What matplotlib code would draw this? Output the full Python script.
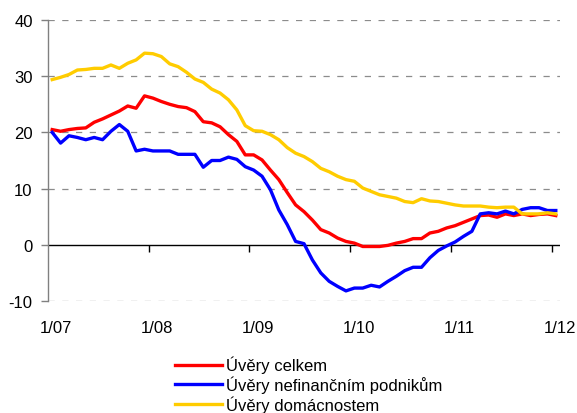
import matplotlib
matplotlib.use("Agg")
import matplotlib.pyplot as plt
import numpy as np

plt.rcParams['font.family'] = ['Liberation Sans', 'DejaVu Sans']

# Monthly year-on-year growth of loans (%), 1/2007 - 1/2012
months = [f"{m}/{y:02d}" for y in range(7, 13) for m in range(1, 13)][:61]

loans_total = [20.5, 20.2, 20.5, 20.7, 20.8, 21.8, 22.4, 23.1, 23.8, 24.7,
               24.3, 26.5, 26.1, 25.5, 25.0, 24.6, 24.4, 23.7, 21.9, 21.7,
               21.0, 19.6, 18.4, 16.0, 16.0, 15.1, 13.3, 11.6, 9.3, 7.1,
               5.9, 4.4, 2.7, 2.1, 1.2, 0.6, 0.3, -0.3, -0.3, -0.3,
               -0.1, 0.3, 0.6, 1.1, 1.1, 2.1, 2.4, 3.0, 3.4, 4.0,
               4.6, 5.2, 5.3, 4.9, 5.5, 5.2, 5.5, 5.2, 5.4, 5.5,
               5.2]

loans_corporations = [20.0, 18.1, 19.4, 19.1, 18.7, 19.1, 18.7, 20.2, 21.4, 20.2,
                      16.7, 17.0, 16.7, 16.7, 16.7, 16.1, 16.1, 16.1, 13.8, 15.0,
                      15.0, 15.6, 15.2, 13.9, 13.3, 12.2, 9.8, 6.2, 3.6, 0.6,
                      0.2, -2.7, -5.0, -6.5, -7.4, -8.2, -7.7, -7.7, -7.2, -7.5,
                      -6.5, -5.6, -4.6, -4.0, -4.0, -2.3, -1.0, -0.2, 0.5, 1.5,
                      2.4, 5.5, 5.7, 5.5, 6.0, 5.5, 6.3, 6.6, 6.6, 6.1,
                      6.1]

loans_households = [29.4, 29.8, 30.3, 31.1, 31.2, 31.4, 31.4, 32.0, 31.4, 32.3,
                    32.9, 34.1, 34.0, 33.5, 32.2, 31.7, 30.7, 29.5, 28.9, 27.7,
                    27.0, 25.8, 24.0, 21.2, 20.3, 20.2, 19.6, 18.7, 17.3, 16.3,
                    15.7, 14.8, 13.6, 13.0, 12.2, 11.6, 11.3, 10.1, 9.5, 8.9,
                    8.6, 8.3, 7.7, 7.5, 8.2, 7.8, 7.7, 7.4, 7.1, 6.9,
                    6.9, 6.9, 6.7, 6.6, 6.7, 6.7, 5.5, 5.5, 5.5, 5.7,
                    5.5]

series_labels = ["Úvěry celkem", "Úvěry nefinančním podnikům", "Úvěry domácnostem"]
series_colors = ["#FF0000", "#0000FF", "#FFCC00"]

x_labels = ["1/07", "1/08", "1/09", "1/10", "1/11", "1/12"]
y_ticks = [-10, 0, 10, 20, 30, 40]

FS = 12

fig = plt.figure(figsize=(5.77, 4.14), dpi=100)
ax = fig.add_axes([48 / 577, 1 - 302 / 414, 512 / 577, 281 / 414])

x = np.arange(len(months))
handles = []
for vals, lab, col in zip([loans_total, loans_corporations, loans_households],
                          series_labels, series_colors):
    h, = ax.plot(x, vals, color=col, lw=2.4, label=lab, solid_joinstyle='round',
                 zorder=3)
    handles.append(h)

ax.set_xlim(-0.5, len(months) - 0.5)
ax.set_ylim(-10, 40)

# horizontal dashed grid
for yv in y_ticks:
    if yv != 0:
        ax.axhline(yv, color="#8c8c8c", lw=0.9, dashes=(5, 6), zorder=1)
ax.axhline(0, color="black", lw=1.0, zorder=2)

for s in ["top", "right", "bottom"]:
    ax.spines[s].set_visible(False)
ax.spines["left"].set_color("#808080")
ax.spines["left"].set_linewidth(1.0)

ax.set_yticks(y_ticks)
ax.set_yticklabels([str(v) for v in y_ticks], fontsize=FS)
ax.tick_params(axis="y", length=5, width=1, color="#808080", pad=6)

# year labels centred on January
label_pos = [i * 12 + 0.5 for i in range(len(x_labels))]
ax.xaxis.set_ticks_position("bottom")
ax.set_xticks(label_pos)
ax.set_xticklabels(x_labels, fontsize=FS)
ax.tick_params(axis="x", length=0, pad=14)

# tick marks on the zero line between December and January
sep = [i * 12 - 0.5 for i in range(1, len(x_labels))]
ax.plot(sep, [0] * len(sep), ls="none", marker=3, color="black",
        markersize=5, markeredgewidth=1, zorder=2, clip_on=False)

fig.legend(handles, series_labels, loc="upper left",
           bbox_to_anchor=(175 / 577, 1 - 357 / 414), frameon=False,
           fontsize=FS, handlelength=2.8, handletextpad=0.25,
           labelspacing=0.13, borderaxespad=0, borderpad=0)

fig.savefig("out.png", dpi=100)
